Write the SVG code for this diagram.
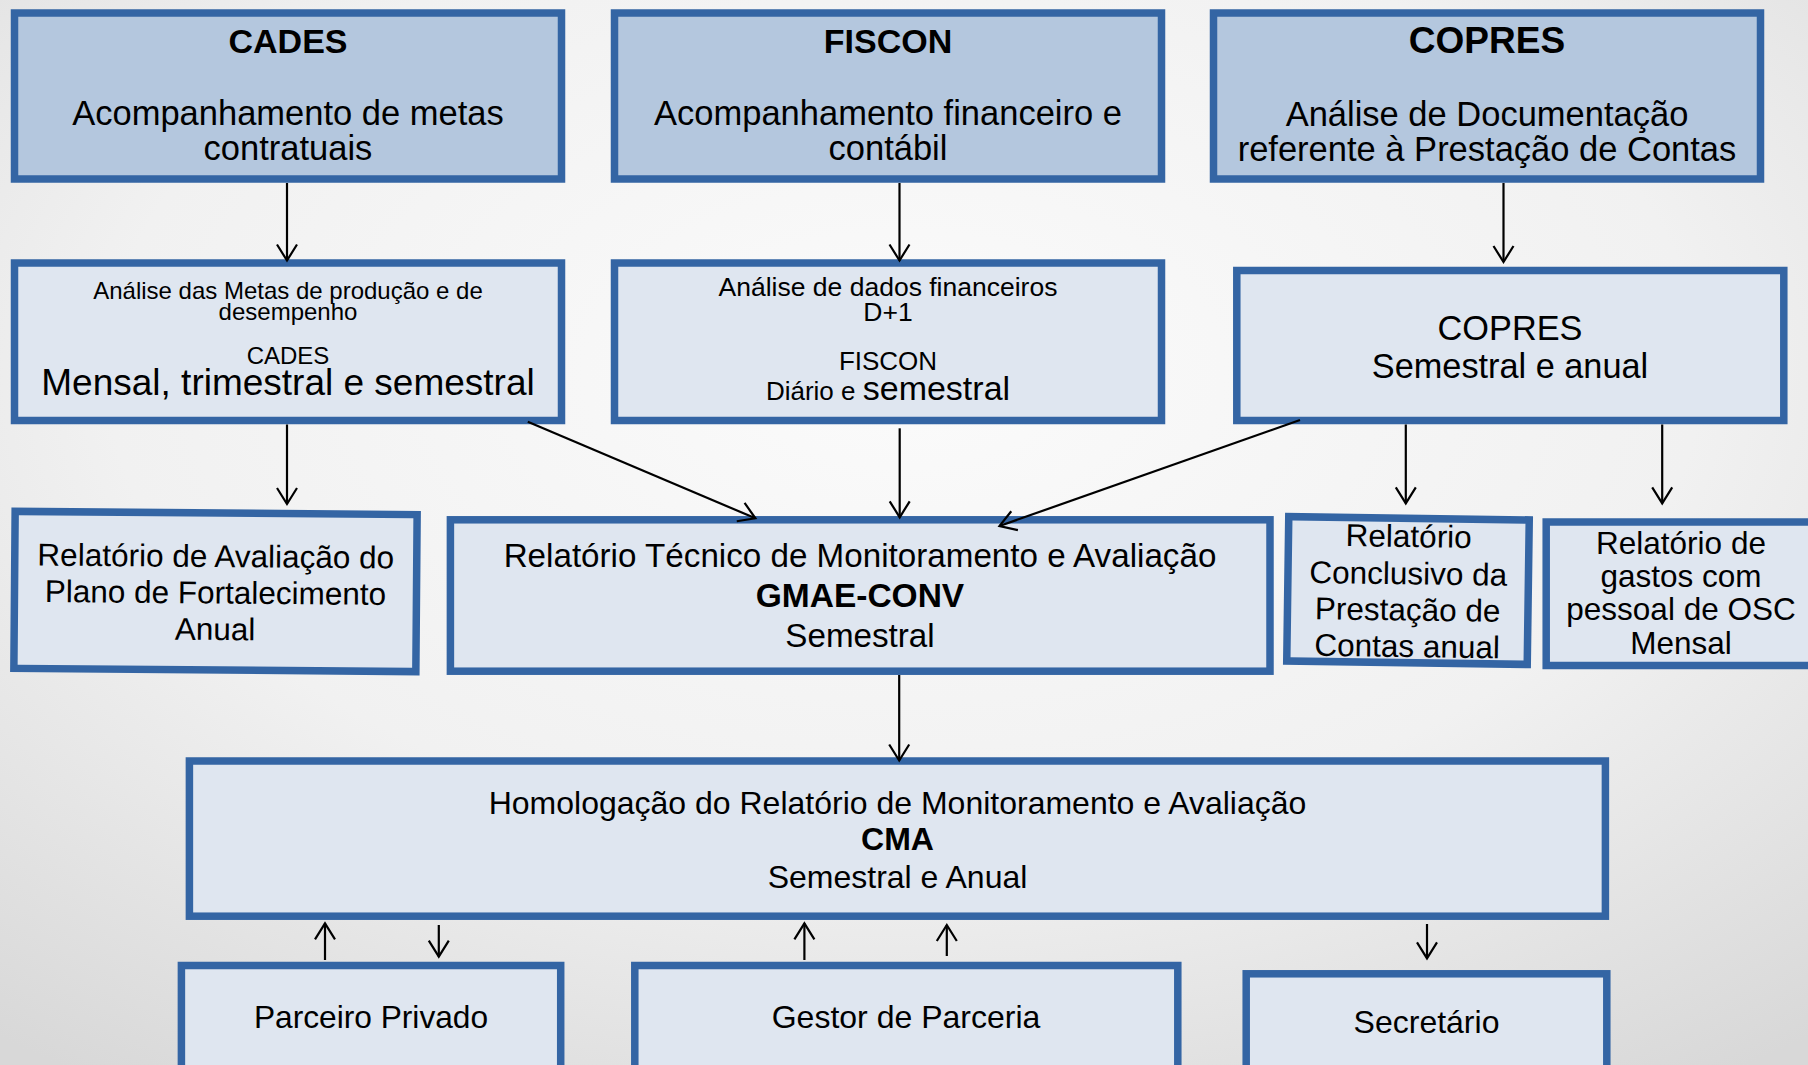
<svg xmlns="http://www.w3.org/2000/svg" width="1808" height="1065" viewBox="0 0 1808 1065">
<defs>
<radialGradient id="bg" cx="0.5" cy="0.35" r="0.8">
<stop offset="0" stop-color="#fbfbfb"/>
<stop offset="0.55" stop-color="#f1f1f1"/>
<stop offset="1" stop-color="#d8d8d8"/>
</radialGradient>
<marker id="ah" markerUnits="userSpaceOnUse" markerWidth="24" markerHeight="28" viewBox="-20 -14 24 28" refX="0" refY="0" orient="auto">
<path d="M-16,-10 L0,0 L-16,10" fill="none" stroke="#000" stroke-width="2.2"/>
</marker>
<style>
.top{fill:#b4c7de;stroke:#3465a4;stroke-width:7.5}
.low{fill:#dfe6f0;stroke:#3465a4;stroke-width:7.5}
text{font-family:"Liberation Sans",Arial,sans-serif;fill:#000;text-anchor:middle}
.b{font-weight:bold}
.c line{stroke:#000;stroke-width:2.2;marker-end:url(#ah)}
</style>
</defs>
<rect x="0" y="0" width="1808" height="1065" fill="url(#bg)"/>

<g id="cades-top">
<rect class="top" x="14.5" y="13" width="547" height="166"/>
<text x="288" y="53" class="b" font-size="34">CADES</text>
<text x="288" y="125" font-size="34.5">Acompanhamento de metas</text>
<text x="288" y="160" font-size="34.5">contratuais</text>
</g>

<g id="fiscon-top">
<rect class="top" x="614.5" y="13" width="547" height="166"/>
<text x="888" y="53" class="b" font-size="34">FISCON</text>
<text x="888" y="125" font-size="34.5">Acompanhamento financeiro e</text>
<text x="888" y="160" font-size="34.5">contábil</text>
</g>

<g id="copres-top">
<rect class="top" x="1213.5" y="13" width="547" height="166"/>
<text x="1487" y="53" class="b" font-size="37">COPRES</text>
<text x="1487" y="126" font-size="34.5">Análise de Documentação</text>
<text x="1487" y="161" font-size="34.5">referente à Prestação de Contas</text>
</g>

<g id="cades-analise">
<rect class="low" x="14.5" y="263" width="547" height="157.5"/>
<text x="288" y="298.5" font-size="24">Análise das Metas de produção e de</text>
<text x="288" y="319.5" font-size="24">desempenho</text>
<text x="288" y="363.5" font-size="24">CADES</text>
<text x="288" y="394.5" font-size="37">Mensal, trimestral e semestral</text>
</g>

<g id="fiscon-analise">
<rect class="low" x="614.5" y="263" width="547" height="157.5"/>
<text x="888" y="296" font-size="26.5">Análise de dados financeiros</text>
<text x="888" y="321" font-size="26.5">D+1</text>
<text x="888" y="369.5" font-size="26">FISCON</text>
<text x="888" y="400" font-size="26">Diário e <tspan font-size="34">semestral</tspan></text>
</g>

<g id="copres-analise">
<rect class="low" x="1236.8" y="270.5" width="547" height="150"/>
<text x="1510" y="339.5" font-size="34.3">COPRES</text>
<text x="1510" y="378" font-size="34.3">Semestral e anual</text>
</g>

<g id="rel-avaliacao" transform="rotate(0.47 215.5 591.5)">
<rect class="low" x="14.5" y="513" width="402" height="157"/>
<text x="215.5" y="567" font-size="31.5">Relatório de Avaliação do</text>
<text x="215.5" y="603.5" font-size="31.5">Plano de Fortalecimento</text>
<text x="215.5" y="640" font-size="31.5">Anual</text>
</g>

<g id="gmae">
<rect class="low" x="450.4" y="519.8" width="819.6" height="151.4"/>
<text x="860" y="567" font-size="33.2">Relatório Técnico de Monitoramento e Avaliação</text>
<text x="860" y="607" class="b" font-size="33.5">GMAE-CONV</text>
<text x="860" y="647" font-size="33.2">Semestral</text>
</g>

<g id="rel-conclusivo" transform="rotate(0.8 1408 590.5)">
<rect class="low" x="1287.75" y="518.25" width="240.5" height="144.5"/>
<text x="1408" y="547" font-size="31.5">Relatório</text>
<text x="1408" y="584.3" font-size="31.5">Conclusivo da</text>
<text x="1408" y="620.5" font-size="31.5">Prestação de</text>
<text x="1408" y="657" font-size="31.5">Contas anual</text>
</g>

<g id="rel-gastos">
<rect class="low" x="1546.2" y="522" width="270" height="143.5"/>
<text x="1681" y="553.5" font-size="31.5">Relatório de</text>
<text x="1681" y="587" font-size="31.5">gastos com</text>
<text x="1681" y="620" font-size="31.5">pessoal de OSC</text>
<text x="1681" y="653.5" font-size="31.5">Mensal</text>
</g>

<g id="cma">
<rect class="low" x="189.4" y="761" width="1416" height="155.2"/>
<text x="897.5" y="814" font-size="32">Homologação do Relatório de Monitoramento e Avaliação</text>
<text x="897.5" y="850" class="b" font-size="32">CMA</text>
<text x="897.5" y="888" font-size="32">Semestral e Anual</text>
</g>

<g id="parceiro">
<rect class="low" x="181.4" y="965.5" width="379.3" height="120"/>
<text x="371" y="1027.5" font-size="31.7">Parceiro Privado</text>
</g>

<g id="gestor">
<rect class="low" x="634.8" y="965.5" width="543" height="120"/>
<text x="906" y="1027.5" font-size="32">Gestor de Parceria</text>
</g>

<g id="secretario">
<rect class="low" x="1246.2" y="973.8" width="360.6" height="120"/>
<text x="1426.5" y="1033" font-size="32">Secretário</text>
</g>

<g id="connectors" class="c">
<line x1="287" y1="183" x2="287" y2="260.5"/>
<line x1="899.5" y1="183" x2="899.5" y2="260.5"/>
<line x1="1503.5" y1="183" x2="1503.5" y2="262"/>
<line x1="287" y1="424.5" x2="287" y2="504"/>
<line x1="527.8" y1="421.7" x2="755.4" y2="518.3"/>
<line x1="899.7" y1="428.3" x2="899.7" y2="517.3"/>
<line x1="1300" y1="420" x2="999.5" y2="526"/>
<line x1="1405.8" y1="424.5" x2="1405.8" y2="503.3"/>
<line x1="1662.2" y1="424.5" x2="1662.2" y2="503.3"/>
<line x1="899.2" y1="675" x2="899.2" y2="760.5"/>
<line x1="325" y1="960" x2="325" y2="923.3"/>
<line x1="438.8" y1="925" x2="438.8" y2="956.7"/>
<line x1="804.4" y1="960" x2="804.4" y2="923.3"/>
<line x1="946.8" y1="956" x2="946.8" y2="925"/>
<line x1="1427" y1="924" x2="1427" y2="958.3"/>
</g>
</svg>
